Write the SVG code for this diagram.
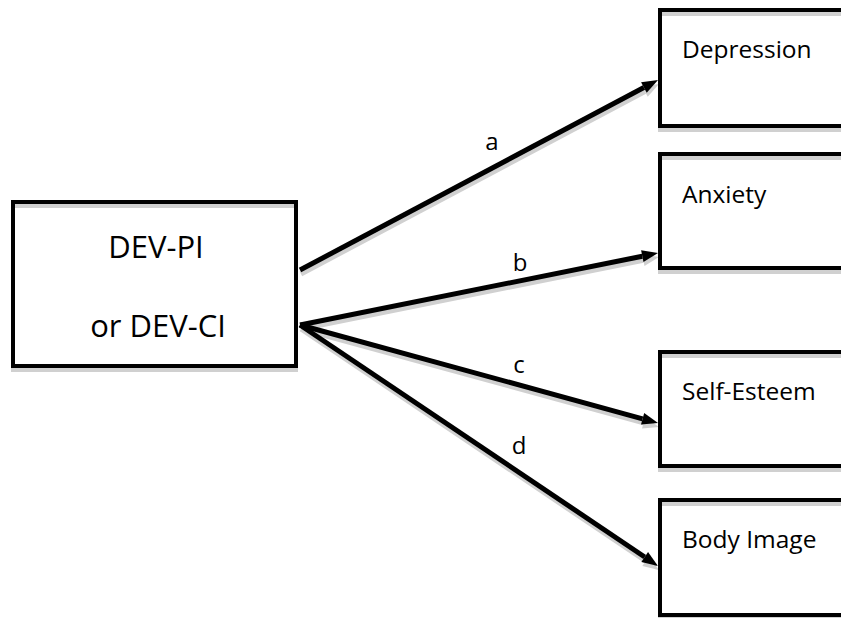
<svg xmlns="http://www.w3.org/2000/svg" width="841" height="618" viewBox="0 0 841 618">
<style>
.box{fill:none;stroke:#000;stroke-width:4}
.sh{fill:none;stroke:#d0d0d0;stroke-width:4}
.ln{stroke:#000;stroke-width:5;fill:none}
.lsh{stroke:#d0d0d0;stroke-width:5;fill:none}
.big{font-family:"Open Sans",sans-serif;font-size:31px;fill:#000}
.lbl{font-family:"Open Sans",sans-serif;font-size:24.5px;fill:#000}
.arr{font-family:"Open Sans",sans-serif;font-size:24px;fill:#000;text-anchor:middle}
</style>
<defs>
<marker id="ah" markerUnits="userSpaceOnUse" markerWidth="16" markerHeight="12" refX="0" refY="6" orient="auto" overflow="visible"><path d="M0,0 L16,6 L0,12 z" fill="#000"/></marker>
<marker id="ahs" markerUnits="userSpaceOnUse" markerWidth="16" markerHeight="12" refX="0" refY="6" orient="auto" overflow="visible"><path d="M0,0 L16,6 L0,12 z" fill="#d0d0d0"/></marker>
</defs>
<rect width="841" height="618" fill="#fff"/>
<g id="connectors">
<g transform="translate(1,4)">
<line class="lsh" x1="300" y1="270" x2="643.9" y2="87.5" marker-end="url(#ahs)"/>
<line class="lsh" x1="300" y1="325" x2="642.3" y2="256.2" marker-end="url(#ahs)"/>
<line class="lsh" x1="300" y1="325" x2="642.6" y2="418.8" marker-end="url(#ahs)"/>
<line class="lsh" x1="300" y1="325" x2="644.7" y2="557" marker-end="url(#ahs)"/>
</g>
<line class="ln" x1="300" y1="270" x2="643.9" y2="87.5" marker-end="url(#ah)"/>
<line class="ln" x1="300" y1="325" x2="642.3" y2="256.2" marker-end="url(#ah)"/>
<line class="ln" x1="300" y1="325" x2="642.6" y2="418.8" marker-end="url(#ah)"/>
<line class="ln" x1="300" y1="325" x2="644.7" y2="557" marker-end="url(#ah)"/>
<text class="arr" x="492" y="150">a</text>
<text class="arr" x="520" y="271">b</text>
<text class="arr" x="519" y="373">c</text>
<text class="arr" x="519" y="454">d</text>
</g>
<g id="dev">
<rect class="sh" x="13" y="206" width="283" height="164"/>
<rect class="box" x="13" y="202" width="283" height="164"/>
<text class="big" x="156" y="258" text-anchor="middle">DEV-PI</text>
<text class="big" x="158" y="337" text-anchor="middle">or DEV-CI</text>
</g>
<g id="depression">
<rect class="sh" x="660" y="14" width="200" height="116"/>
<rect class="box" x="660" y="10" width="200" height="116"/>
<text class="lbl" x="682" y="58">Depression</text>
</g>
<g id="anxiety">
<rect class="sh" x="660" y="158" width="200" height="114"/>
<rect class="box" x="660" y="154" width="200" height="114"/>
<text class="lbl" x="682" y="203">Anxiety</text>
</g>
<g id="selfesteem">
<rect class="sh" x="660" y="356" width="200" height="114"/>
<rect class="box" x="660" y="352" width="200" height="114"/>
<text class="lbl" x="682" y="400">Self-Esteem</text>
</g>
<g id="bodyimage">
<rect class="sh" x="660" y="504" width="200" height="115"/>
<rect class="box" x="660" y="500" width="200" height="115"/>
<text class="lbl" x="682" y="548">Body Image</text>
</g>
</svg>
